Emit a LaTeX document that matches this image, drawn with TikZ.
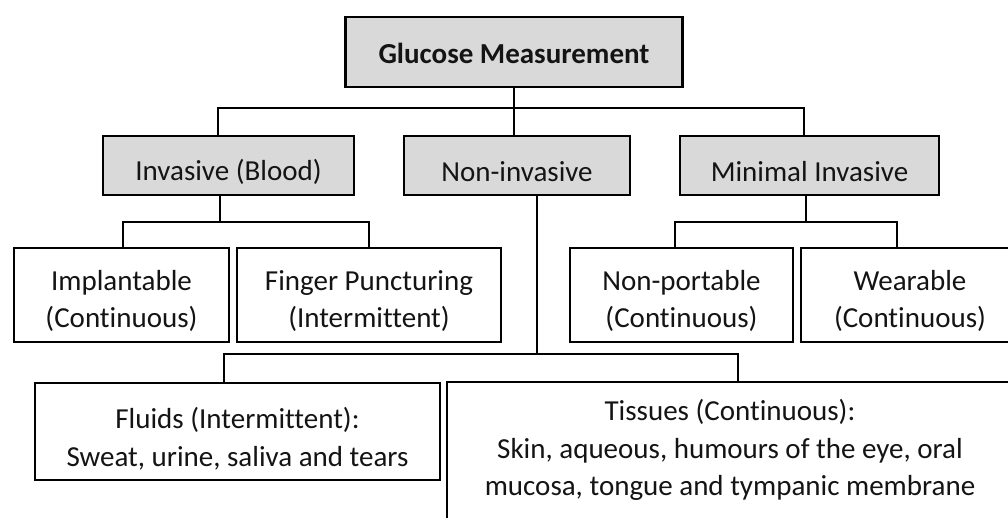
\documentclass[tikz,border=0pt]{standalone}
\usepackage{fontspec}
\setmainfont{Carlito}[Ligatures={NoCommon}]
\usetikzlibrary{calc}
\definecolor{boxgray}{HTML}{D9D9D9}
\tikzset{
  box/.style={draw=black, line width=2.6pt, rectangle, inner sep=0pt},
  graybox/.style={box, fill=boxgray},
  whitebox/.style={box, fill=white},
  txt/.style={align=center, inner sep=0pt, font=\fontsize{29}{37.5}\selectfont, text=black!92},
  conn/.style={draw=black, line width=2.2pt}
}
\begin{document}
\begin{tikzpicture}[x=1pt, y=-1pt]
\useasboundingbox (0,0) rectangle (1008,517);
\clip (0,0) rectangle (1008,517);
\fill[white] (0,0) rectangle (1008,517);
% junction points
\coordinate (b1L) at (218,108);
\coordinate (b1R) at (804,108);
\coordinate (b2) at (220,222);
\coordinate (b2R) at (369,222);
\coordinate (b3) at (806,222);
\coordinate (b3L) at (675,222);
\coordinate (b3R) at (897,222);
\coordinate (b4) at (537,354);
\coordinate (b4L) at (224,354);
\coordinate (b4R) at (738,354);
% boxes
\node[graybox, minimum width=337pt, minimum height=70pt] (root) at (514,52) {};
\node[graybox, minimum width=251pt, minimum height=59pt] (inv) at (228.5,165.5) {};
\node[graybox, minimum width=226pt, minimum height=59pt] (non) at (517,165.5) {};
\node[graybox, minimum width=259pt, minimum height=59pt] (min) at (809.5,165.5) {};
\node[whitebox, minimum width=215pt, minimum height=94pt] (impl) at (121.5,295) {};
\node[whitebox, minimum width=264pt, minimum height=94pt] (finger) at (369,295) {};
\node[whitebox, minimum width=223pt, minimum height=94pt] (nonport) at (681.5,295) {};
\node[whitebox, minimum width=218pt, minimum height=94pt] (wear) at (910,295) {};
\node[whitebox, minimum width=405pt, minimum height=97pt] (fluids) at (237.5,431.5) {};
\node[whitebox, minimum width=566pt, minimum height=143pt] (tissues) at (730,453.5) {};
% connectors
\draw[conn] (root.south -| 514,0) -- (non.north -| 514,0);
\draw[conn] (inv.north -| b1L) |- (b1R) -- (min.north -| b1R);
\draw[conn] (inv.south -| b2) -- (b2);
\draw[conn] (impl.north -| 123,0) |- (b2R) -- (finger.north -| b2R);
\draw[conn] (min.south -| b3) -- (b3);
\draw[conn] (nonport.north -| b3L) |- (b3R) -- (wear.north -| b3R);
\draw[conn] (non.south -| b4) -- (b4);
\draw[conn] (fluids.north -| b4L) |- (b4R) -- (tissues.north -| b4R);
% texts
\node[txt, font=\fontsize{29}{37.5}\selectfont\bfseries] (rootT) at ($(root.center)+(0,1)$) {Glucose Measurement};
\node[txt] (invT) at ($(inv.center)+(0,6)$) {Invasive (Blood)};
\node[txt] (nonT) at ($(non.center)+(0,6)$) {Non-invasive};
\node[txt] (minT) at ($(min.center)+(0,6)$) {Minimal Invasive};
\node[txt] (implT) at ($(impl.center)+(0,6)$) {Implantable\\(Continuous)};
\node[txt] (fingerT) at ($(finger.center)+(0,6)$) {Finger Puncturing\\(Intermittent)};
\node[txt] (nonportT) at ($(nonport.center)+(0,6)$) {Non-portable\\(Continuous)};
\node[txt] (wearT) at ($(wear.center)+(0,6)$) {Wearable\\(Continuous)};
\node[txt] (fluidsT) at ($(fluids.center)+(0,7)$) {Fluids (Intermittent):\\Sweat, urine, saliva and tears};
\node[txt] (tissuesT) at (730,450) {Tissues (Continuous):\\Skin, aqueous, humours of the eye, oral\\mucosa, tongue and tympanic membrane};
\end{tikzpicture}
\end{document}
